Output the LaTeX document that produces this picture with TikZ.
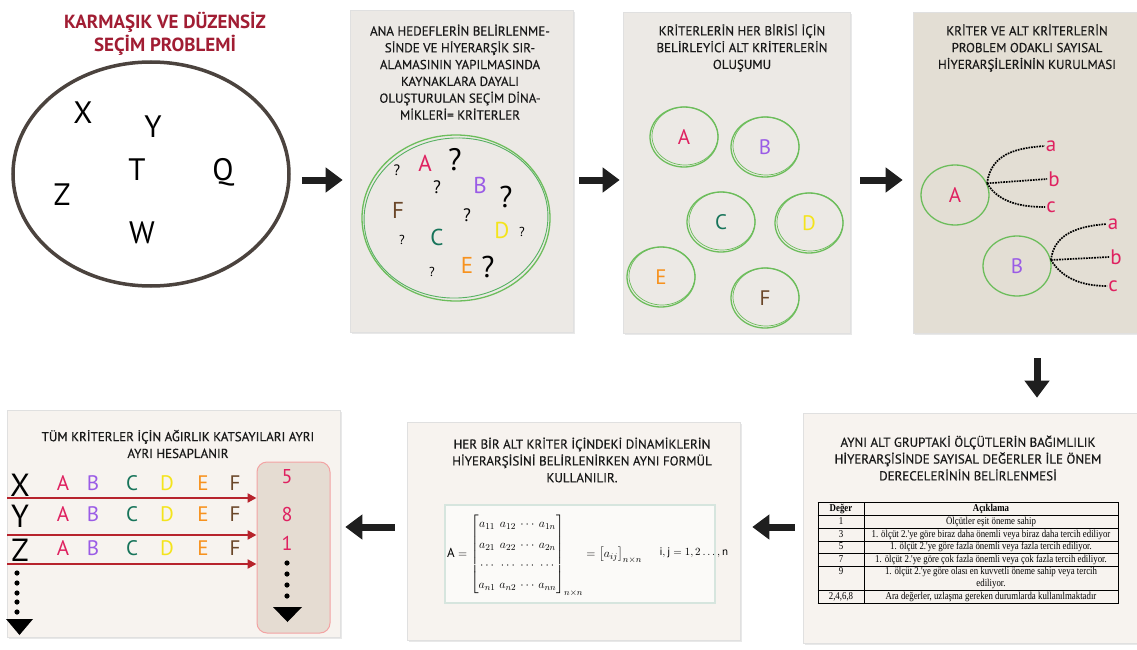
\documentclass[tikz,border=0pt]{standalone}
\usepackage{amsmath}
\usepackage{array}
\usepackage{fontspec}
\setmainfont{PT Sans}
\newfontfamily\hfont[FakeBold=0.4]{PT Sans}
\newfontfamily\tabfont[FakeStretch=0.84]{Liberation Serif}
\usetikzlibrary{arrows.meta,calc,shapes.geometric,shadows}
\definecolor{titlered}{HTML}{A11D33}
\definecolor{rim}{HTML}{4B433E}
\definecolor{paneA}{HTML}{ECE9E5}
\definecolor{paneB}{HTML}{E3DED4}
\definecolor{paneC}{HTML}{F7F3EF}
\definecolor{cgreen}{HTML}{6CBD5B}
\definecolor{cA}{HTML}{DF2160}
\definecolor{cB}{HTML}{9A5BE6}
\definecolor{cC}{HTML}{17745A}
\definecolor{cD}{HTML}{F4E41C}
\definecolor{cE}{HTML}{F7921E}
\definecolor{cF}{HTML}{6A4628}
\definecolor{redline}{HTML}{B7232C}
\definecolor{boxfill}{HTML}{E5DCD2}
\definecolor{boxrim}{HTML}{F3A3A3}
\definecolor{mrim}{HTML}{D6E5DE}
\tikzset{
	panel/.style={draw=black!12, line width=0.6pt, drop shadow={shadow xshift=1.5pt, shadow yshift=-2pt, opacity=0.18}},
	paneltext/.style={align=center, text=black!90, font=\hfont\fontsize{13}{16.8}\selectfont},
	bigarrow/.style={line width=7pt, color=black!88, -{Triangle[length=17pt,width=24pt]}},
	crit/.style={ellipse, draw=cgreen, line width=1.3pt, minimum width=68pt, minimum height=60pt, inner sep=0pt, font=\fontsize{21}{21}\selectfont},
	subcrit/.style={text=cA, font=\fontsize{21}{21}\selectfont, inner sep=1pt},
	fan/.style={densely dotted, line width=1.7pt},
	redarrow/.style={draw=redline, line width=2.6pt, -{Triangle[length=9pt,width=9pt]}}
}
\begin{document}
\begin{tikzpicture}[x=1pt, y=-1pt]
	\useasboundingbox (0,0) rectangle (1137,650);
	\fill[white] (0,0) rectangle (1137,650);
	\node[align=center, text=titlered, font=\bfseries\fontsize{19}{23}\selectfont] (ttl) at (165,34) {KARMAŞIK VE DÜZENSİZ\\SEÇİM PROBLEMİ};
	\node[ellipse, draw=rim, line width=3.5pt, minimum width=276pt, minimum height=224pt] (prob) at (151,174) {};
	\foreach \t/\x/\y in {X/83/113, Y/153/127, T/137/170, Q/223/172, Z/62/195, W/142/233}
		\node[font=\fontsize{31}{31}\selectfont] (l\t) at (\x,\y) {\t};
	\node[panel, fill=paneA, minimum width=223pt, minimum height=322pt] (p2) at (461.5,171) {};
	\node[paneltext] (t2) at (460,72) {ANA HEDEFLERİN BELİRLENME-\\SİNDE VE HİYERARŞİK SIR-\\ALAMASININ YAPILMASINDA\\KAYNAKLARA DAYALI\\OLUŞTURULAN SEÇİM DİNA-\\MİKLERİ= KRİTERLER};
	\node[ellipse, draw=cgreen, line width=1.3pt, minimum width=188pt, minimum height=166pt] (pool) at (456,218) {};
	\draw[cgreen!80!teal, line width=0.9pt, rotate around={4:(pool.center)}] (pool.center) ellipse [x radius=92, y radius=80];
	\foreach \t/\c/\x/\y in {A/cA/425/163, B/cB/480/185, C/cC/437/237, D/cD/502/230, E/cE/467/265, F/cF/398/210}
		\node[text=\c, font=\fontsize{23}{23}\selectfont] (m\t) at (\x,\y) {\t};
	\foreach \s/\x/\y [count=\i] in {31/455/160, 30/506/197, 30/488/267, 18/437/187, 18/467/215, 15/397/170, 13/402/240, 13/432/272, 13/522/232}
		\node[font=\fontsize{\s}{\s}\selectfont] (q\i) at (\x,\y) {?};
	\node[panel, fill=paneA, minimum width=227pt, minimum height=321pt] (p3) at (736.5,172.5) {};
	\node[paneltext] (t3) at (742,48) {KRİTERLERİN HER BİRİSİ İÇİN\\BELİRLEYİCİ ALT KRİTERLERİN\\OLUŞUMU};
	\foreach \t/\c/\x/\y in {A/cA/684/137, B/cB/765/147, C/cC/721/222, D/cD/809/223, E/cE/661/277, F/cF/765/298} {
		\node[crit, text=\c] (k\t) at (\x,\y) {\t};
		\draw[cgreen, line width=0.7pt] ([shift={(1,-1)}]k\t.center) ellipse [x radius=33, y radius=29];
	}
	\node[panel, fill=paneB, minimum width=232pt, minimum height=321pt] (p4) at (1029,172.5) {};
	\node[paneltext] (t4) at (1027,48) {KRİTER VE ALT KRİTERLERİN\\PROBLEM ODAKLI SAYISAL\\HİYERARŞİLERİNİN KURULMASI};
	\node[crit, text=cA] (hA) at (955,195) {A};
	\node[crit, text=cB] (hB) at (1017,266) {B};
	\foreach \t/\x/\y in {a/1051/146, b/1054/179, c/1051/207}
		\node[subcrit] (hA\t) at (\x,\y) {\t};
	\foreach \t/\x/\y in {a/1113/224, b/1116/257, c/1113/286}
		\node[subcrit] (hB\t) at (\x,\y) {\t};
	\draw[fan] (hA.20) .. controls +(4,-30) and +(-28,2) .. (hAa.west);
	\draw[fan] (hA.20) -- (hAb.west);
	\draw[fan] (hA.20) .. controls +(12,20) and +(-22,0) .. (hAc.west);
	\draw[fan] (hB.10) .. controls +(3,-28) and +(-25,2) .. (hBa.west);
	\draw[fan] (hB.10) -- (hBb.west);
	\draw[fan] (hB.10) .. controls +(12,20) and +(-22,0) .. (hBc.west);
	\node[panel, fill=paneC, minimum width=342pt, minimum height=230pt] (p5) at (974,528) {};
	\node[paneltext] (t5) at (968,458) {AYNI ALT GRUPTAKİ ÖLÇÜTLERİN BAĞIMLILIK\\HİYERARŞİSİNDE SAYISAL DEĞERLER İLE ÖNEM\\DERECELERİNİN BELİRLENMESİ};
	\node[inner sep=0pt] (tbl) at (968,553) {\tabfont\fontsize{10.5}{11.6}\selectfont\setlength\tabcolsep{2pt}\setlength\arrayrulewidth{1pt}%
		\begin{tabular}{|w{c}{41pt}|w{c}{249pt}|}
			\hline
			\textbf{Değer} & \textbf{Açıklama}\\ \hline
			1 & Ölçütler eşit öneme sahip\\ \hline
			3 & 1. ölçüt 2.'ye göre biraz daha önemli veya biraz daha tercih ediliyor\\ \hline
			5 & 1. ölçüt 2.'ye göre fazla önemli veya fazla tercih ediliyor.\\ \hline
			7 & 1. ölçüt 2.'ye göre çok fazla önemli veya çok fazla tercih ediliyor.\\ \hline
			9 & 1. ölçüt 2.'ye göre olası en kuvvetli öneme sahip veya tercih\\
			 & ediliyor.\\ \hline
			2,4,6,8 & Ara değerler, uzlaşma gereken durumlarda kullanılmaktadır\\ \hline
		\end{tabular}};
	\node[panel, fill=paneC, minimum width=333pt, minimum height=218pt] (p6) at (573.5,531) {};
	\node[paneltext] (t6) at (582,460) {HER BİR ALT KRİTER İÇİNDEKİ DİNAMİKLERİN\\HİYERARŞİSİNİ BELİRLENİRKEN AYNI FORMÜL\\KULLANILIR.};
	\node[draw=mrim, line width=2pt, fill=white!55!paneC, minimum width=270pt, minimum height=98pt] (mbox) at (580,554) {};
	\node[anchor=west, inner sep=0pt, font=\fontsize{13}{14}\selectfont] (frm) at (447,555) {\setlength\arraycolsep{2pt}\renewcommand\arraystretch{1.45}%
		$\mathrm{A}=\begin{bmatrix} a_{11} & a_{12} & \cdots & a_{1n}\\ a_{21} & a_{22} & \cdots & a_{2n}\\ \cdots & \cdots & \cdots & \cdots\\ a_{n1} & a_{n2} & \cdots & a_{nn}\end{bmatrix}_{n\times n}=\bigl[a_{ij}\bigr]_{n\times n}$};
	\node[anchor=west, font=\fontsize{11}{13}\selectfont] (cnd) at (656,553) {$\mathrm{i,j}=1,2\ldots,\mathrm{n}$};
	\node[panel, fill=paneC, minimum width=333pt, minimum height=227pt] (p7) at (173.5,523.5) {};
	\node[paneltext] (t7) at (178,444) {TÜM KRİTERLER İÇİN AĞIRLIK KATSAYILARI AYRI\\AYRI HESAPLANIR};
	\node[draw=boxrim, fill=boxfill, rounded corners=10pt, line width=1pt, minimum width=73pt, minimum height=171pt] (wbox) at (293.5,547.5) {};
	\foreach \r/\ly/\ay/\n in {X/485/498/5, Y/516/535/8, Z/550/564/1} {
		\node[font=\fontsize{32}{32}\selectfont] (row\r) at (20,\ly) {\r};
		\foreach \t/\c/\x in {A/cA/63, B/cB/93, C/cC/132, D/cD/167, E/cE/203, F/cF/235}
			\node[text=\c, font=\fontsize{21}{21}\selectfont] (w\r\t) at (\x,\ly-2) {\t};
		\coordinate (ar\r) at (7,\ay);
		\draw[redarrow] (ar\r) -- (ar\r -| wbox.west);
		\node[text=cA, font=\fontsize{20}{20}\selectfont] (num\r) at (287,\ay-21) {\n};
	}
	\foreach \d in {563,574,585,596} \fill (287,\d) circle (2.6);
	\fill (273,607) -- (302,607) -- (287.5,622) -- cycle;
	\foreach \d in {573,583,593,602,612} \fill (17,\d) circle (2.6);
	\fill (6,619) -- (33,619) -- (19.5,635) -- cycle;
	\draw[bigarrow] ($(prob.east)+(11,6)$) -- ($(prob.east -| p2.west)+(-7,6)$);
	\draw[bigarrow] ($(p2.east)+(6,9)$) -- ($(p2.east -| p3.west)+(-3,9)$);
	\draw[bigarrow] ($(p3.east)+(10,7.5)$) -- ($(p3.east -| p4.west)+(-10,7.5)$);
	\draw[bigarrow] ($(p4.south)+(8,25)$) -- ($(p4.south |- p5.north)+(8,-15)$);
	\draw[bigarrow] ($(p5.west)+(-8,-1)$) -- ($(p5.west -| p6.east)+(12,-1)$);
	\draw[bigarrow] ($(p6.west)+(-12,-4)$) -- ($(p6.west -| p7.east)+(5,-4)$);
\end{tikzpicture}
\end{document}
